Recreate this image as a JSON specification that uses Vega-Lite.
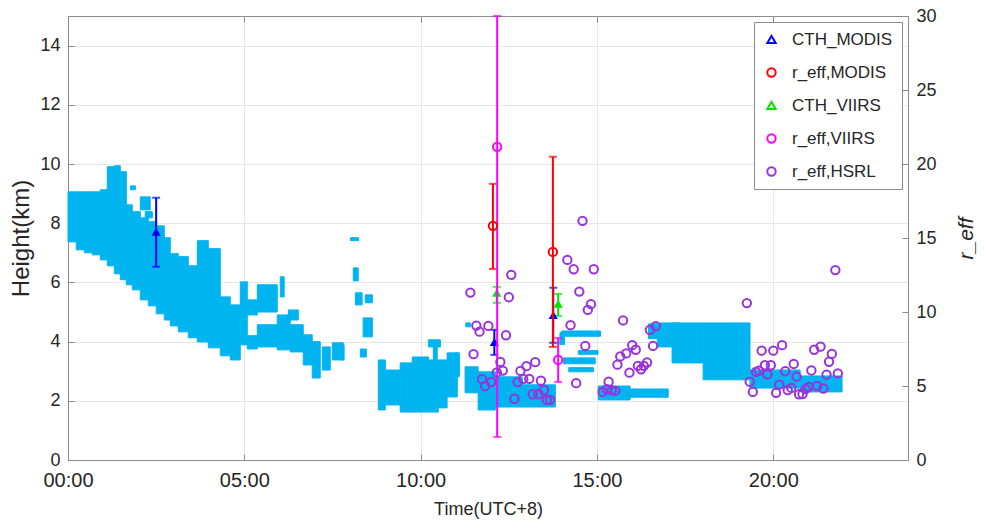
{
  "$schema": "https://vega.github.io/schema/vega-lite/v6.json",
  "width": 840,
  "height": 444,
  "autosize": {"type": "none"},
  "padding": {"left": 68, "top": 16, "right": 77, "bottom": 65},
  "background": "white",
  "config": {
    "font": "Liberation Sans",
    "view": {"stroke": "#8c8c8c", "strokeWidth": 1},
    "axis": {
      "domainColor": "#8c8c8c", "tickColor": "#8c8c8c",
      "labelColor": "#262626", "titleColor": "#262626",
      "labelFontSize": 18, "titleFontSize": 18, "titleFontWeight": "normal",
      "gridColor": "#e6e6e6", "tickSize": -6, "labelPadding": 14
    },
    "legend": {
      "strokeColor": "#8c8c8c", "fillColor": "white",
      "padding": 9, "labelFontSize": 17, "labelColor": "#262626",
      "symbolStrokeWidth": 2, "symbolSize": 70, "rowPadding": 15, "labelOffset": 12
    }
  },
  "datasets": {
    "cloud": [
      {"t0":0,"t1":0.235,"h0":7.37,"h1":9.06},
      {"t0":0.235,"t1":0.462,"h0":7.10,"h1":9.06},
      {"t0":0.462,"t1":0.689,"h0":7.00,"h1":9.06},
      {"t0":0.689,"t1":0.916,"h0":6.93,"h1":9.06},
      {"t0":0.916,"t1":1.114,"h0":6.76,"h1":9.13},
      {"t0":1.114,"t1":1.313,"h0":6.56,"h1":9.91},
      {"t0":1.313,"t1":1.483,"h0":6.29,"h1":9.94},
      {"t0":1.483,"t1":1.653,"h0":6.09,"h1":9.74},
      {"t0":1.653,"t1":1.823,"h0":5.92,"h1":8.62},
      {"t0":1.823,"t1":2.050,"h0":5.75,"h1":8.39},
      {"t0":2.050,"t1":2.277,"h0":5.41,"h1":8.18},
      {"t0":2.277,"t1":2.503,"h0":5.21,"h1":8.05},
      {"t0":2.503,"t1":2.730,"h0":4.94,"h1":7.91},
      {"t0":2.730,"t1":2.900,"h0":4.73,"h1":7.51},
      {"t0":2.900,"t1":3.127,"h0":4.53,"h1":6.97},
      {"t0":3.127,"t1":3.411,"h0":4.33,"h1":6.87},
      {"t0":3.411,"t1":3.666,"h0":4.13,"h1":6.56},
      {"t0":3.666,"t1":3.978,"h0":3.99,"h1":7.41},
      {"t0":3.978,"t1":4.318,"h0":3.79,"h1":7.14},
      {"t0":4.318,"t1":4.602,"h0":3.52,"h1":5.51},
      {"t0":4.602,"t1":4.885,"h0":3.38,"h1":5.24},
      {"t0":4.885,"t1":5.084,"h0":3.89,"h1":6.02},
      {"t0":5.084,"t1":5.367,"h0":3.75,"h1":4.20},
      {"t0":5.084,"t1":5.367,"h0":4.90,"h1":5.41},
      {"t0":5.367,"t1":5.934,"h0":3.82,"h1":4.57},
      {"t0":5.367,"t1":5.934,"h0":5.00,"h1":5.92},
      {"t0":5.934,"t1":6.303,"h0":3.72,"h1":4.90},
      {"t0":6.303,"t1":6.671,"h0":3.65,"h1":4.57},
      {"t0":6.671,"t1":6.926,"h0":3.21,"h1":4.23},
      {"t0":6.926,"t1":7.153,"h0":2.77,"h1":4.00},
      {"t0":7.21,"t1":7.437,"h0":3.04,"h1":3.82},
      {"t0":7.494,"t1":7.806,"h0":3.38,"h1":3.96},
      {"t0":1.77,"t1":1.91,"h0":9.13,"h1":9.26},
      {"t0":2.05,"t1":2.33,"h0":8.45,"h1":8.89},
      {"t0":2.19,"t1":2.39,"h0":8.18,"h1":8.39},
      {"t0":8.01,"t1":8.24,"h0":7.41,"h1":7.51},
      {"t0":8.09,"t1":8.23,"h0":6.05,"h1":6.49},
      {"t0":8.15,"t1":8.34,"h0":5.24,"h1":5.65},
      {"t0":8.43,"t1":8.63,"h0":5.31,"h1":5.58},
      {"t0":8.37,"t1":8.63,"h0":4.16,"h1":4.80},
      {"t0":7.72,"t1":7.83,"h0":3.38,"h1":3.89},
      {"t0":8.29,"t1":8.46,"h0":3.48,"h1":3.75},
      {"t0":6.02,"t1":6.13,"h0":5.51,"h1":6.19},
      {"t0":6.25,"t1":6.53,"h0":4.73,"h1":5.07},
      {"t0":8.80,"t1":9.00,"h0":1.69,"h1":3.38},
      {"t0":9.00,"t1":9.42,"h0":1.86,"h1":3.04},
      {"t0":9.42,"t1":9.76,"h0":1.62,"h1":3.28},
      {"t0":9.76,"t1":10.22,"h0":1.62,"h1":3.48},
      {"t0":10.22,"t1":10.50,"h0":1.62,"h1":3.38},
      {"t0":10.22,"t1":10.56,"h0":3.82,"h1":4.06},
      {"t0":10.36,"t1":10.47,"h0":3.38,"h1":3.82},
      {"t0":10.50,"t1":10.75,"h0":1.76,"h1":3.38},
      {"t0":10.75,"t1":11.04,"h0":2.13,"h1":3.62},
      {"t0":10.98,"t1":11.10,"h0":2.81,"h1":3.62},
      {"t0":11.26,"t1":11.63,"h0":2.27,"h1":3.15},
      {"t0":11.63,"t1":12.12,"h0":1.69,"h1":2.98},
      {"t0":12.12,"t1":12.88,"h0":1.79,"h1":2.81},
      {"t0":12.88,"t1":13.82,"h0":1.79,"h1":2.54},
      {"t0":11.28,"t1":11.41,"h0":4.50,"h1":4.63},
      {"t0":14.00,"t1":15.10,"h0":4.18,"h1":4.36},
      {"t0":13.95,"t1":14.08,"h0":3.90,"h1":4.30},
      {"t0":14.47,"t1":15.03,"h0":3.57,"h1":3.70},
      {"t0":14.05,"t1":14.95,"h0":3.25,"h1":3.45},
      {"t0":14.20,"t1":14.90,"h0":2.98,"h1":3.12},
      {"t0":15.04,"t1":15.94,"h0":2.03,"h1":2.50},
      {"t0":15.94,"t1":17.02,"h0":2.12,"h1":2.40},
      {"t0":16.46,"t1":16.94,"h0":4.10,"h1":4.60},
      {"t0":16.71,"t1":17.13,"h0":3.82,"h1":4.50},
      {"t0":16.79,"t1":17.36,"h0":4.46,"h1":4.63},
      {"t0":17.13,"t1":18.01,"h0":3.28,"h1":4.63},
      {"t0":18.01,"t1":19.34,"h0":2.71,"h1":4.63},
      {"t0":19.34,"t1":20.76,"h0":2.43,"h1":3.04},
      {"t0":20.76,"t1":21.95,"h0":2.30,"h1":2.84}
    ],
    "bars": [
      {"series":"CTH_MODIS","side":"L","t":2.50,"lo":6.53,"hi":8.86},
      {"series":"CTH_MODIS","side":"L","t":12.09,"lo":3.55,"hi":4.40},
      {"series":"CTH_MODIS","side":"L","t":13.76,"lo":3.96,"hi":5.82},
      {"series":"CTH_VIIRS","side":"L","t":12.16,"lo":5.31,"hi":5.85},
      {"series":"CTH_VIIRS","side":"L","t":13.90,"lo":4.87,"hi":5.61},
      {"series":"r_eff,MODIS","side":"R","t":12.05,"lo":12.91,"hi":18.66},
      {"series":"r_eff,MODIS","side":"R","t":13.75,"lo":7.64,"hi":20.49},
      {"series":"r_eff,VIIRS","side":"R","t":12.17,"lo":1.56,"hi":30},
      {"series":"r_eff,VIIRS","side":"R","t":13.90,"lo":5.27,"hi":8.25}
    ],
    "pts": [
      {"series":"CTH_MODIS","side":"L","t":2.50,"v":7.71},
      {"series":"CTH_MODIS","side":"L","t":12.09,"v":3.99},
      {"series":"CTH_MODIS","side":"L","t":13.76,"v":4.90},
      {"series":"CTH_VIIRS","side":"L","t":12.16,"v":5.65},
      {"series":"CTH_VIIRS","side":"L","t":13.90,"v":5.28},
      {"series":"r_eff,MODIS","side":"R","t":12.05,"v":15.82},
      {"series":"r_eff,MODIS","side":"R","t":13.75,"v":14.06},
      {"series":"r_eff,VIIRS","side":"R","t":12.17,"v":21.16},
      {"series":"r_eff,VIIRS","side":"R","t":13.90,"v":6.76},
      {"series":"r_eff,HSRL","side":"R","t":11.41,"v":11.31},
      {"series":"r_eff,HSRL","side":"R","t":12.57,"v":12.51},
      {"series":"r_eff,HSRL","side":"R","t":12.50,"v":11.00},
      {"series":"r_eff,HSRL","side":"R","t":11.58,"v":9.08},
      {"series":"r_eff,HSRL","side":"R","t":11.67,"v":8.67},
      {"series":"r_eff,HSRL","side":"R","t":11.92,"v":9.06},
      {"series":"r_eff,HSRL","side":"R","t":12.42,"v":8.43},
      {"series":"r_eff,HSRL","side":"R","t":11.50,"v":7.15},
      {"series":"r_eff,HSRL","side":"R","t":12.26,"v":6.63},
      {"series":"r_eff,HSRL","side":"R","t":12.33,"v":6.04},
      {"series":"r_eff,HSRL","side":"R","t":12.16,"v":5.92},
      {"series":"r_eff,HSRL","side":"R","t":11.74,"v":5.46},
      {"series":"r_eff,HSRL","side":"R","t":11.83,"v":5.00},
      {"series":"r_eff,HSRL","side":"R","t":12.00,"v":5.27},
      {"series":"r_eff,HSRL","side":"R","t":12.83,"v":6.02},
      {"series":"r_eff,HSRL","side":"R","t":13.00,"v":6.34},
      {"series":"r_eff,HSRL","side":"R","t":13.25,"v":6.61},
      {"series":"r_eff,HSRL","side":"R","t":12.91,"v":5.48},
      {"series":"r_eff,HSRL","side":"R","t":13.08,"v":5.48},
      {"series":"r_eff,HSRL","side":"R","t":12.75,"v":5.26},
      {"series":"r_eff,HSRL","side":"R","t":13.41,"v":5.36},
      {"series":"r_eff,HSRL","side":"R","t":13.50,"v":4.73},
      {"series":"r_eff,HSRL","side":"R","t":13.18,"v":4.44},
      {"series":"r_eff,HSRL","side":"R","t":13.34,"v":4.44},
      {"series":"r_eff,HSRL","side":"R","t":12.66,"v":4.14},
      {"series":"r_eff,HSRL","side":"R","t":13.58,"v":4.06},
      {"series":"r_eff,HSRL","side":"R","t":13.67,"v":4.06},
      {"series":"r_eff,HSRL","side":"R","t":14.59,"v":16.16},
      {"series":"r_eff,HSRL","side":"R","t":14.16,"v":13.52},
      {"series":"r_eff,HSRL","side":"R","t":14.34,"v":12.89},
      {"series":"r_eff,HSRL","side":"R","t":14.91,"v":12.89},
      {"series":"r_eff,HSRL","side":"R","t":14.50,"v":11.38},
      {"series":"r_eff,HSRL","side":"R","t":14.83,"v":10.53},
      {"series":"r_eff,HSRL","side":"R","t":14.74,"v":10.14},
      {"series":"r_eff,HSRL","side":"R","t":14.25,"v":9.11},
      {"series":"r_eff,HSRL","side":"R","t":14.67,"v":7.71},
      {"series":"r_eff,HSRL","side":"R","t":14.41,"v":5.19},
      {"series":"r_eff,HSRL","side":"R","t":15.74,"v":9.43},
      {"series":"r_eff,HSRL","side":"R","t":16.50,"v":8.79},
      {"series":"r_eff,HSRL","side":"R","t":16.67,"v":9.05},
      {"series":"r_eff,HSRL","side":"R","t":16.59,"v":7.71},
      {"series":"r_eff,HSRL","side":"R","t":16.00,"v":7.76},
      {"series":"r_eff,HSRL","side":"R","t":16.10,"v":7.45},
      {"series":"r_eff,HSRL","side":"R","t":15.83,"v":7.20},
      {"series":"r_eff,HSRL","side":"R","t":15.66,"v":7.00},
      {"series":"r_eff,HSRL","side":"R","t":15.58,"v":6.44},
      {"series":"r_eff,HSRL","side":"R","t":15.92,"v":5.90},
      {"series":"r_eff,HSRL","side":"R","t":16.16,"v":6.36},
      {"series":"r_eff,HSRL","side":"R","t":16.25,"v":6.13},
      {"series":"r_eff,HSRL","side":"R","t":16.33,"v":6.36},
      {"series":"r_eff,HSRL","side":"R","t":16.42,"v":6.59},
      {"series":"r_eff,HSRL","side":"R","t":15.33,"v":5.29},
      {"series":"r_eff,HSRL","side":"R","t":15.16,"v":4.60},
      {"series":"r_eff,HSRL","side":"R","t":15.28,"v":4.78},
      {"series":"r_eff,HSRL","side":"R","t":15.42,"v":4.72},
      {"series":"r_eff,HSRL","side":"R","t":15.52,"v":4.67},
      {"series":"r_eff,HSRL","side":"R","t":21.76,"v":12.83},
      {"series":"r_eff,HSRL","side":"R","t":19.25,"v":10.60},
      {"series":"r_eff,HSRL","side":"R","t":19.67,"v":7.39},
      {"series":"r_eff,HSRL","side":"R","t":20.00,"v":7.39},
      {"series":"r_eff,HSRL","side":"R","t":20.25,"v":7.76},
      {"series":"r_eff,HSRL","side":"R","t":19.51,"v":5.95},
      {"series":"r_eff,HSRL","side":"R","t":19.59,"v":6.04},
      {"series":"r_eff,HSRL","side":"R","t":19.76,"v":6.40},
      {"series":"r_eff,HSRL","side":"R","t":19.93,"v":6.40},
      {"series":"r_eff,HSRL","side":"R","t":19.83,"v":5.79},
      {"series":"r_eff,HSRL","side":"R","t":19.33,"v":5.29},
      {"series":"r_eff,HSRL","side":"R","t":19.42,"v":4.60},
      {"series":"r_eff,HSRL","side":"R","t":20.08,"v":4.54},
      {"series":"r_eff,HSRL","side":"R","t":20.17,"v":5.09},
      {"series":"r_eff,HSRL","side":"R","t":20.34,"v":6.00},
      {"series":"r_eff,HSRL","side":"R","t":20.58,"v":6.49},
      {"series":"r_eff,HSRL","side":"R","t":20.66,"v":5.63},
      {"series":"r_eff,HSRL","side":"R","t":20.41,"v":4.72},
      {"series":"r_eff,HSRL","side":"R","t":20.51,"v":4.87},
      {"series":"r_eff,HSRL","side":"R","t":20.73,"v":4.44},
      {"series":"r_eff,HSRL","side":"R","t":20.83,"v":4.46},
      {"series":"r_eff,HSRL","side":"R","t":20.92,"v":4.80},
      {"series":"r_eff,HSRL","side":"R","t":21.00,"v":4.94},
      {"series":"r_eff,HSRL","side":"R","t":21.08,"v":6.05},
      {"series":"r_eff,HSRL","side":"R","t":21.16,"v":7.45},
      {"series":"r_eff,HSRL","side":"R","t":21.34,"v":7.66},
      {"series":"r_eff,HSRL","side":"R","t":21.24,"v":5.00},
      {"series":"r_eff,HSRL","side":"R","t":21.42,"v":4.83},
      {"series":"r_eff,HSRL","side":"R","t":21.51,"v":5.77},
      {"series":"r_eff,HSRL","side":"R","t":21.58,"v":6.64},
      {"series":"r_eff,HSRL","side":"R","t":21.66,"v":7.17},
      {"series":"r_eff,HSRL","side":"R","t":21.83,"v":5.85}
    ]
  },
  "layer": [
    {
      "layer": [
        {
          "data": {"name": "cloud"},
          "mark": {"type": "rect", "color": "#00b4f0", "stroke": "#00b4f0", "strokeWidth": 1, "opacity": 1},
          "encoding": {
            "x": {"field": "t0", "type": "quantitative", "scale": {"domain": [0, 23.82], "nice": false},
              "axis": {"orient": "bottom", "title": "Time(UTC+8)", "values": [0, 5, 10, 15, 20], "grid": true, "labelFlush": false,
                "labelFontSize": 20, "labelExpr": "(datum.value < 10 ? '0' : '') + datum.value + ':00'", "labelPadding": 16, "titlePadding": 10}},
            "x2": {"field": "t1"},
            "y": {"field": "h0", "type": "quantitative", "scale": {"domain": [0, 15], "nice": false},
              "axis": {"orient": "left", "title": "Height(km)", "titleFontSize": 24, "values": [0, 2, 4, 6, 8, 10, 12, 14], "grid": true, "titlePadding": 6}},
            "y2": {"field": "h1"}
          }
        },
        {
          "data": {"name": "bars"},
          "transform": [{"filter": "datum.series == 'CTH_MODIS'"}],
          "mark": {"type": "errorbar", "ticks": true, "size": 8, "thickness": 2, "color": "#0000ff"},
          "encoding": {
            "x": {"field": "t", "type": "quantitative"},
            "y": {"field": "lo", "type": "quantitative", "title": "Height(km)"},
            "y2": {"field": "hi"}
          }
        },
        {
          "data": {"name": "bars"},
          "transform": [{"filter": "datum.series == 'CTH_VIIRS'"}],
          "mark": {"type": "errorbar", "ticks": true, "size": 8, "thickness": 2, "color": "#00e600"},
          "encoding": {
            "x": {"field": "t", "type": "quantitative"},
            "y": {"field": "lo", "type": "quantitative", "title": "Height(km)"},
            "y2": {"field": "hi"}
          }
        },
        {
          "data": {"name": "pts"},
          "transform": [{"filter": "datum.series == 'CTH_MODIS'"}],
          "mark": {"type": "point", "shape": "triangle-up", "filled": true, "size": 85, "opacity": 1, "color": "#0000ff"},
          "encoding": {
            "x": {"field": "t", "type": "quantitative"},
            "y": {"field": "v", "type": "quantitative", "title": "Height(km)"}
          }
        },
        {
          "data": {"name": "pts"},
          "transform": [{"filter": "datum.series == 'CTH_VIIRS'"}],
          "mark": {"type": "point", "shape": "triangle-up", "filled": true, "size": 85, "opacity": 1, "color": "#00e600"},
          "encoding": {
            "x": {"field": "t", "type": "quantitative"},
            "y": {"field": "v", "type": "quantitative", "title": "Height(km)"}
          }
        }
      ]
    },
    {
      "layer": [
        {
          "data": {"name": "bars"},
          "transform": [{"filter": "datum.series == 'r_eff,MODIS'"}],
          "mark": {"type": "errorbar", "ticks": true, "size": 8, "thickness": 2, "color": "#ff0000"},
          "encoding": {
            "x": {"field": "t", "type": "quantitative", "scale": {"domain": [0, 23.82], "nice": false},
              "axis": {"orient": "top", "labels": false, "title": null, "grid": false, "values": [0, 5, 10, 15, 20], "domain": false}},
            "y": {"field": "lo", "type": "quantitative", "scale": {"domain": [0, 30], "nice": false},
              "axis": {"orient": "right", "title": "r_eff", "titleFontStyle": "italic", "titleFontSize": 21, "titleAngle": 270,
                "values": [0, 5, 10, 15, 20, 25, 30], "grid": false, "titlePadding": 40}},
            "y2": {"field": "hi"}
          }
        },
        {
          "data": {"name": "bars"},
          "transform": [{"filter": "datum.series == 'r_eff,VIIRS'"}],
          "mark": {"type": "errorbar", "ticks": true, "size": 8, "thickness": 2, "color": "#ff00ff"},
          "encoding": {
            "x": {"field": "t", "type": "quantitative"},
            "y": {"field": "lo", "type": "quantitative", "title": "r_eff"},
            "y2": {"field": "hi"}
          }
        },
        {
          "data": {"name": "pts"},
          "transform": [{"filter": "datum.side == 'R'"}],
          "mark": {"type": "point", "filled": false, "size": 70, "strokeWidth": 2, "opacity": 1},
          "encoding": {
            "x": {"field": "t", "type": "quantitative"},
            "y": {"field": "v", "type": "quantitative", "title": "r_eff"},
            "color": {"field": "series", "type": "nominal",
              "legend": {"title": null, "orient": "top-right", "offset": 6},
              "scale": {"domain": ["CTH_MODIS", "r_eff,MODIS", "CTH_VIIRS", "r_eff,VIIRS", "r_eff,HSRL"],
                "range": ["#0000ff", "#ff0000", "#00e600", "#ff00ff", "#9932dc"]}},
            "shape": {"field": "series", "type": "nominal",
              "legend": {"title": null, "orient": "top-right", "offset": 6},
              "scale": {"domain": ["CTH_MODIS", "r_eff,MODIS", "CTH_VIIRS", "r_eff,VIIRS", "r_eff,HSRL"],
                "range": ["triangle-up", "circle", "triangle-up", "circle", "circle"]}}
          }
        }
      ]
    }
  ],
  "resolve": {"scale": {"y": "independent"}, "axis": {"x": "independent"}}
}
